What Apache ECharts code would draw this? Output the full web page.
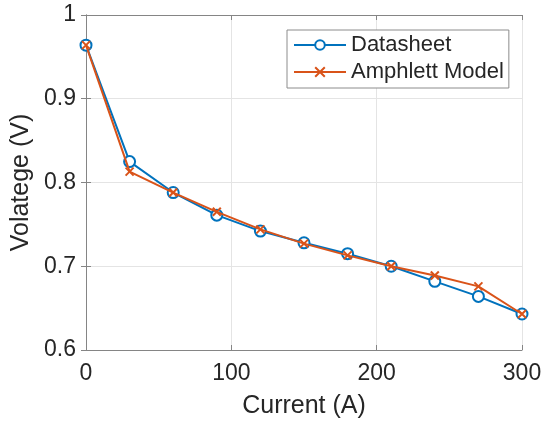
<!DOCTYPE html>
<html>
<head>
<meta charset="utf-8">
<script src="https://cdn.jsdelivr.net/npm/echarts@6/dist/echarts.min.js"></script>
<style>
  html, body { margin: 0; padding: 0; background: #fff; }
  #chart { width: 545px; height: 424px; }
</style>
</head>
<body>
<div id="chart"></div>
<script>
// Fuel cell polarization: measured datasheet points vs. Amphlett model
const current = [0, 30, 60, 90, 120, 150, 180, 210, 240, 270, 300];
const datasheet = [0.964, 0.825, 0.788, 0.761, 0.742, 0.728, 0.715, 0.700, 0.682, 0.664, 0.643];
const amphlett = [0.964, 0.813, 0.788, 0.765, 0.744, 0.727, 0.713, 0.700, 0.689, 0.676, 0.643];
const seriesNames = ['Datasheet', 'Amphlett Model'];

const BLUE = '#0072BD';
const ORANGE = '#D95319';
const TEXT = '#262626';
const AXIS = '#858585';
const GRID = '#e4e4e4';
const FONT = '"Liberation Sans", Arial, Helvetica, sans-serif';

const pairs = (xs, ys) => xs.map((x, i) => [x, ys[i]]);

const chart = echarts.init(document.getElementById('chart'), null, { renderer: 'canvas' });

const axisCommon = {
  axisLine: { show: true, lineStyle: { color: AXIS, width: 1 } },
  axisTick: { show: true, inside: true, length: 5, lineStyle: { color: AXIS, width: 1 } }
};

chart.setOption({
  backgroundColor: '#fff',
  animation: false,
  grid: { left: 86, top: 15, width: 436, height: 337, containLabel: false },
  legend: {
    data: seriesNames,
    orient: 'vertical',
    left: 287,
    top: 30,
    itemWidth: 52,
    itemHeight: 12,
    itemGap: 5,
    padding: [4, 5, 5, 6],
    borderColor: '#8c8c8c',
    borderWidth: 1,
    backgroundColor: '#fff',
    textStyle: { color: TEXT, fontSize: 22, fontFamily: FONT }
  },
  xAxis: [
    Object.assign({
      type: 'value', min: 0, max: 300, interval: 100, position: 'bottom',
      name: 'Current (A)', nameLocation: 'middle', nameGap: 44,
      nameTextStyle: { color: TEXT, fontSize: 25, fontFamily: FONT },
      axisLabel: { color: TEXT, fontSize: 23, fontFamily: FONT, margin: 12 },
      splitLine: { show: true, lineStyle: { color: GRID, width: 1 } }
    }, axisCommon),
    Object.assign({
      type: 'value', min: 0, max: 300, interval: 100, position: 'top',
      axisLabel: { show: false }, splitLine: { show: false }
    }, axisCommon)
  ],
  yAxis: [
    Object.assign({
      type: 'value', min: 0.6, max: 1, interval: 0.1, position: 'left',
      name: 'Volatege (V)', nameLocation: 'middle', nameGap: 47,
      nameTextStyle: { color: TEXT, fontSize: 25, fontFamily: FONT },
      axisLabel: {
        color: TEXT, fontSize: 23, fontFamily: FONT, margin: 10,
        formatter: v => (Math.abs(v - 1) < 1e-9 ? '1' : v.toFixed(1))
      },
      splitLine: { show: true, lineStyle: { color: GRID, width: 1 } }
    }, axisCommon),
    Object.assign({
      type: 'value', min: 0.6, max: 1, interval: 0.1, position: 'right',
      axisLabel: { show: false }, splitLine: { show: false }
    }, axisCommon)
  ],
  series: [
    {
      name: seriesNames[0],
      type: 'line',
      data: pairs(current, datasheet),
      symbol: 'emptyCircle',
      symbolSize: 11,
      itemStyle: { color: BLUE, borderWidth: 2 },
      lineStyle: { color: BLUE, width: 2 },
      z: 2
    },
    {
      name: seriesNames[1],
      type: 'line',
      data: pairs(current, amphlett),
      symbol: 'path://M0,0L10,10M0,10L10,0',
      symbolSize: 8,
      itemStyle: { color: ORANGE, borderColor: ORANGE, borderWidth: 2 },
      lineStyle: { color: ORANGE, width: 2 },
      z: 3
    }
  ]
});
</script>
</body>
</html>
